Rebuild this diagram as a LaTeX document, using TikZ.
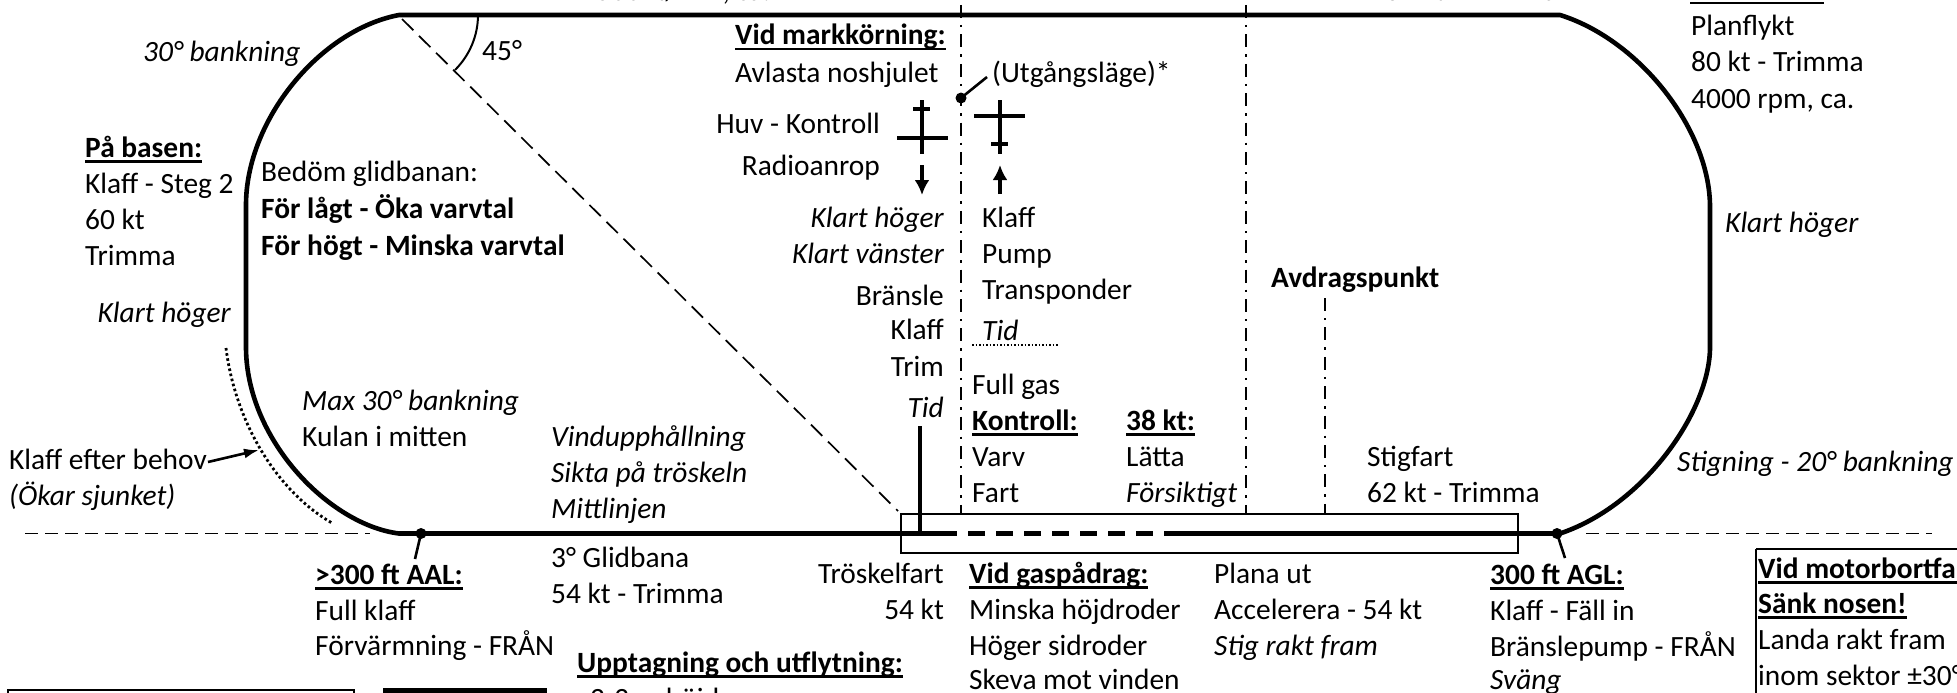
\documentclass[tikz,border=0pt]{standalone}
\usepackage{fontspec}
\setmainfont{Carlito}
\usetikzlibrary{arrows.meta}
\newcommand\ulb[1]{\setbox0\hbox{#1}\rlap{\copy0}\rule[-5.5pt]{\wd0}{2.8pt}}
\tikzset{
  x=1pt,y=-1pt,
  tl/.style={anchor=base west,inner sep=0pt,font=\fontsize{29.4}{35}\selectfont},
  tr/.style={anchor=base east,inner sep=0pt,font=\fontsize{29.4}{35}\selectfont},
  track/.style={line width=4.6pt,line join=round},
  ddot/.style={line width=2.6pt,dash pattern=on 13pt off 7pt on 2.4pt off 7pt},
  lead/.style={line width=2.6pt},
  ext/.style={line width=1.9pt,dash pattern=on 13pt off 7pt},
  box/.style={line width=2.6pt},
  plane/.style={line width=3.4pt},
  parrow/.style={line width=3.6pt,-{Latex[length=15pt,width=15pt]}},
}
\begin{document}
\begin{tikzpicture}
\useasboundingbox (0,0) rectangle (1957,693);
\clip (0,0) rectangle (1957,693);
% key points
\coordinate (bl) at (399,533.5);
\coordinate (tl1) at (399,15);
\coordinate (tr1) at (1560,15);
\coordinate (br) at (1560,533.5);
\coordinate (dash1) at (940,533.5);
\coordinate (dash2) at (1170,533.5);
\coordinate (lw1) at (246,347);
\coordinate (lw2) at (246,205);
\coordinate (rw1) at (1710,207);
\coordinate (rw2) at (1710,347);
% traffic pattern
\draw[track] (dash1) -- (bl) .. controls (330,525) and (246,440) .. (lw1) -- (lw2)
  .. controls (246,120) and (320,30) .. (tl1) -- (tr1)
  .. controls (1640,40) and (1710,130) .. (rw1) -- (rw2)
  .. controls (1710,410) and (1645,505) .. (br) -- (dash2);
\draw[line width=4.6pt,dash pattern=on 17pt off 11pt] (dash1) -- (dash2);
% final approach diagonal
\coordinate (d1) at (402,19);
\coordinate (d2) at (898,511);
\draw[line width=1.7pt,dash pattern=on 16pt off 8pt] (d1) -- (d2);
\coordinate (a1) at (478,15);
\coordinate (a2) at (455,70);
\draw[line width=2pt] (a1) .. controls (478,35.7) and (469.6,55.4) .. (a2);
% runway
\node[box,draw,minimum width=617pt,minimum height=39pt,inner sep=0pt] (rwy) at (1209.5,533.5) {};
% vertical markers
\coordinate (v1a) at (961,5);  \coordinate (v1b) at (961,514);
\coordinate (v2a) at (1246,5); \coordinate (v2b) at (1246,514);
\coordinate (v3a) at (1325,298); \coordinate (v3b) at (1325,514);
\draw[ddot] (v1a) -- (v1b);
\draw[ddot] (v2a) -- (v2b);
\draw[ddot] (v3a) -- (v3b);
\coordinate (tid1) at (920,426); \coordinate (tid2) at (920,533.5);
\draw[line width=4.6pt] (tid1) -- (tid2);
% extended centreline
\coordinate (e1) at (25,533.5);  \coordinate (e2) at (370,533.5);
\coordinate (e3) at (1586,533.5); \coordinate (e4) at (1932,533.5);
\draw[ext] (e1) -- (e2);
\draw[ext] (e3) -- (e4);
% dots and leaders
\coordinate (p1) at (421,533.5); \coordinate (p1b) at (415,559);
\coordinate (p2) at (1557,533.5); \coordinate (p2b) at (1565,558);
\coordinate (p3) at (961,98); \coordinate (p3b) at (987,77);
\fill (p1) circle (5.5pt); \fill (p2) circle (5.5pt); \fill (p3) circle (5.5pt);
\draw[lead] (p1) -- (p1b);
\draw[lead] (p2) -- (p2b);
\draw[lead] (p3) -- (p3b);
% aeroplane symbols
\coordinate (f1a) at (922,100); \coordinate (f1b) at (922,154);
\coordinate (t1a) at (913,109); \coordinate (t1b) at (930,109);
\coordinate (w1a) at (897,138); \coordinate (w1b) at (948,138);
\draw[plane] (f1a) -- (f1b); \draw[plane] (t1a) -- (t1b); \draw[plane] (w1a) -- (w1b);
\coordinate (f2a) at (1000,100); \coordinate (f2b) at (1000,154);
\coordinate (t2a) at (991,144); \coordinate (t2b) at (1008,144);
\coordinate (w2a) at (974,116); \coordinate (w2b) at (1025,116);
\draw[plane] (f2a) -- (f2b); \draw[plane] (t2a) -- (t2b); \draw[plane] (w2a) -- (w2b);
\coordinate (ar1a) at (922,165); \coordinate (ar1b) at (922,195);
\coordinate (ar2a) at (1000,194); \coordinate (ar2b) at (1000,165);
\draw[parrow] (ar1a) -- (ar1b);
\draw[parrow] (ar2a) -- (ar2b);
% dotted marks
\coordinate (u1) at (972,345); \coordinate (u2) at (1059,345);
\draw[line width=1.8pt,dash pattern=on 1.8pt off 1.7pt] (u1) -- (u2);
\coordinate (dc1) at (226,348); \coordinate (dc2) at (332,523);
\draw[line width=2.8pt,dash pattern=on 2.6pt off 2.6pt] (dc1) .. controls (235,420) and (275,490) .. (dc2);
\coordinate (k1) at (259,450);
% boxes at the edges
\coordinate (ra) at (1690,3); \coordinate (rb) at (1824,3);
\draw[line width=2.8pt] (ra) -- (rb);
\draw[line width=2.4pt] (1756,549) -- (1980,549) (1756,549) -- (1756,700);
\draw[line width=2.4pt] (8,700) -- (8,690) -- (354,690) -- (354,700);
\fill (383,688) rectangle (547,700);
% texts
\node[tl] (n01) at (596,1) {500 ft/min, ca.};
\node[tl] (n02) at (1385,1) {67 kt - Trimma};
\node[tl] (n03) at (143,62) {\itshape 30° bankning};
\node[tl] (n04) at (482,60) {45°};
\node[tl] (n05) at (85,157) {\bfseries\ulb{På basen:}};
\node[tl] (n06) at (85,193) {Klaff - Steg 2};
\node[tl] (n07) at (85,229) {60 kt};
\node[tl] (n08) at (85,265) {Trimma};
\node[tr] (n09) at (231,322) {\itshape Klart höger};
\node[tl] (n10) at (261,181) {Bedöm glidbanan:};
\node[tl] (n11) at (261,218) {\bfseries För lågt - Öka varvtal};
\node[tl] (n12) at (261,255) {\bfseries För högt - Minska varvtal};
\node[tl] (n13) at (302,410) {\itshape Max 30° bankning};
\node[tl] (n14) at (302,446) {Kulan i mitten};
\node[tl] (n15) at (9,469) {Klaff efter behov};
\node[tl] (n16) at (9,505) {\itshape (Ökar sjunket)};
\node[tl] (n17) at (551,446) {\itshape Vindupphållning};
\node[tl] (n18) at (551,482) {\itshape Sikta på tröskeln};
\node[tl] (n19) at (551,518) {\itshape Mittlinjen};
\node[tl] (n20) at (315,584) {\bfseries\ulb{>300 ft AAL:}};
\node[tl] (n21) at (315,620) {Full klaff};
\node[tl] (n22) at (315,655) {Förvärmning - FRÅN};
\node[tl] (n23) at (551,567) {3° Glidbana};
\node[tl] (n24) at (551,603) {54 kt - Trimma};
\node[tl] (n25) at (577,672) {\bfseries\ulb{Upptagning och utflytning:}};
\node[tl] (n26) at (590,708) {2-3 m höjd};
\node[tl] (n27) at (735,45) {\bfseries\ulb{Vid markkörning:}};
\node[tl] (n28) at (735,82) {Avlasta noshjulet};
\node[tl] (n29) at (992,82) {(Utgångsläge)*};
\node[tr] (n30) at (880,133) {Huv - Kontroll};
\node[tr] (n31) at (880,175) {Radioanrop};
\node[tr] (n32) at (944,227) {\itshape Klart höger};
\node[tr] (n33) at (944,263) {\itshape Klart vänster};
\node[tr] (n34) at (944,305) {Bränsle};
\node[tr] (n35) at (944,339) {Klaff};
\node[tr] (n36) at (944,376) {Trim};
\node[tr] (n37) at (944,417) {\itshape Tid};
\node[tl] (n38) at (982,227) {Klaff};
\node[tl] (n39) at (982,263) {Pump};
\node[tl] (n40) at (982,299) {Transponder};
\node[tl] (n41) at (982,340) {\itshape Tid};
\node[tl] (n42) at (972,394) {Full gas};
\node[tl] (n43) at (972,430) {\bfseries\ulb{Kontroll:}};
\node[tl] (n44) at (972,466) {Varv};
\node[tl] (n45) at (972,502) {Fart};
\node[tl] (n46) at (1126,430) {\bfseries\ulb{38 kt:}};
\node[tl] (n47) at (1126,466) {Lätta};
\node[tl] (n48) at (1126,502) {\itshape Försiktigt};
\node[tl] (n49) at (1271,287) {\bfseries Avdragspunkt};
\node[tl] (n50) at (1367,466) {Stigfart};
\node[tl] (n51) at (1367,502) {62 kt - Trimma};
\node[tr] (n52) at (944,583) {Tröskelfart};
\node[tr] (n53) at (944,619) {54 kt};
\node[tl] (n54) at (969,583) {\bfseries\ulb{Vid gaspådrag:}};
\node[tl] (n55) at (969,619) {Minska höjdroder};
\node[tl] (n56) at (969,655) {Höger sidroder};
\node[tl] (n57) at (969,689) {Skeva mot vinden};
\node[tl] (n58) at (1214,583) {Plana ut};
\node[tl] (n59) at (1214,619) {Accelerera - 54 kt};
\node[tl] (n60) at (1214,655) {\itshape Stig rakt fram};
\node[tl] (n61) at (1490,584) {\bfseries\ulb{300 ft AGL:}};
\node[tl] (n62) at (1490,620) {Klaff - Fäll in};
\node[tl] (n63) at (1490,656) {Bränslepump - FRÅN};
\node[tl] (n64) at (1490,689) {\itshape Sväng};
\node[tl] (n65) at (1758,578) {\bfseries\ulb{Vid motorbortfall}};
\node[tl] (n66) at (1758,613) {\bfseries\ulb{Sänk nosen!}};
\node[tl] (n67) at (1758,649) {Landa rakt fram};
\node[tl] (n68) at (1758,685) {inom sektor ±30°};
\node[tl] (n69) at (1691,36) {Planflykt};
\node[tl] (n70) at (1691,72) {80 kt - Trimma};
\node[tl] (n71) at (1691,108) {4000 rpm, ca.};
\node[tl] (n72) at (1725,232) {\itshape Klart höger};
\node[tl] (n73) at (1677,471) {\itshape Stigning - 20° bankning};
% leader from label to dotted curve
\draw[line width=2.6pt,-{Latex[length=15pt,width=10pt]}] (n15.base east) ++(1,-7) -- (k1);
\end{tikzpicture}
\end{document}
